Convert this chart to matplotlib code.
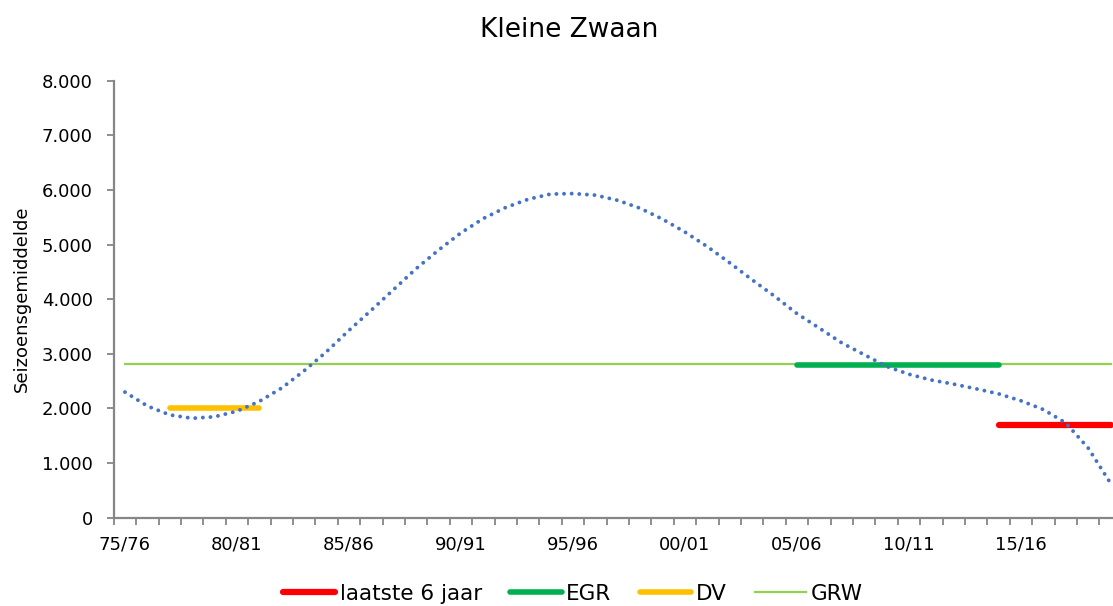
import matplotlib
matplotlib.use("Agg")
import matplotlib.pyplot as plt
from matplotlib.ticker import FuncFormatter, MultipleLocator, FixedLocator

seasons = ["75/76", "76/77", "77/78", "78/79", "79/80", "80/81", "81/82", "82/83", "83/84", "84/85",
           "85/86", "86/87", "87/88", "88/89", "89/90", "90/91", "91/92", "92/93", "93/94", "94/95",
           "95/96", "96/97", "97/98", "98/99", "99/00", "00/01", "01/02", "02/03", "03/04", "04/05",
           "05/06", "06/07", "07/08", "08/09", "09/10", "10/11", "11/12", "12/13", "13/14", "14/15",
           "15/16", "16/17", "17/18", "18/19", "19/20"]

trend = [2300, 2045, 1882, 1820, 1848, 1950, 2130, 2375, 2690, 3040,
         3430, 3800, 4180, 4560, 4900, 5215, 5478, 5680, 5830, 5925,
         5934, 5905, 5810, 5665, 5465, 5230, 4962, 4665, 4355, 4055,
         3736, 3470, 3200, 2985, 2770, 2626, 2520, 2445, 2360, 2268,
         2140, 1980, 1735, 1275, 630]

laatste_seasons = ["14/15", "15/16", "16/17", "17/18", "18/19", "19/20"]
laatste_value = 1700
egr_seasons = ["05/06", "06/07", "07/08", "08/09", "09/10", "10/11", "11/12", "12/13", "13/14", "14/15"]
egr_value = 2800
dv_seasons = ["77/78", "78/79", "79/80", "80/81", "81/82"]
dv_value = 2000
grw_value = 2820

label_seasons = ["75/76", "80/81", "85/86", "90/91", "95/96", "00/01", "05/06", "10/11", "15/16"]

idx = {s: i for i, s in enumerate(seasons)}

fig = plt.figure(figsize=(11.13, 6.06), dpi=100)
ax = fig.add_axes([0.1022, 0.1457, 0.9057, 0.7211])

axis_col = "#868686"

ax.plot(range(len(seasons)), [grw_value] * len(seasons), color="#92D050", lw=1.6, label="GRW", zorder=2)
ax.plot([idx[s] for s in egr_seasons], [egr_value] * len(egr_seasons), color="#00B050", lw=4.0,
        solid_capstyle="round", label="EGR", zorder=3)
ax.plot([idx[s] for s in dv_seasons], [dv_value] * len(dv_seasons), color="#FFC000", lw=4.0,
        solid_capstyle="round", label="DV", zorder=3)
ax.plot([idx[s] for s in laatste_seasons], [laatste_value] * len(laatste_seasons), color="#FF0000", lw=4.5,
        solid_capstyle="round", label="laatste 6 jaar", zorder=3)
ax.plot(range(len(seasons)), trend, color="#4472C4", lw=2.8, linestyle=(0, (0.01, 1.95)),
        dash_capstyle="round", zorder=4)

ax.set_xlim(-0.5, len(seasons) - 0.5)
ax.set_ylim(0, 8000)

ax.xaxis.set_major_locator(FixedLocator([idx[s] for s in label_seasons]))
ax.set_xticklabels(label_seasons)
ax.xaxis.set_minor_locator(FixedLocator([i - 0.5 for i in range(len(seasons) + 1)]))
ax.tick_params(axis="x", which="major", length=0, pad=12.5, labelsize=13)
ax.tick_params(axis="x", which="minor", length=5, width=1.3, color=axis_col, direction="out")

ax.yaxis.set_major_locator(MultipleLocator(1000))
ax.yaxis.set_major_formatter(FuncFormatter(lambda v, p: f"{int(v):,}".replace(",", ".")))
ax.tick_params(axis="y", which="major", length=5, width=1.3, color=axis_col, direction="out",
               labelsize=13, pad=10)

for side in ["top", "right"]:
    ax.spines[side].set_visible(False)
for side in ["left", "bottom"]:
    ax.spines[side].set_color(axis_col)
    ax.spines[side].set_linewidth(1.6)

ax.set_ylabel("Seizoensgemiddelde", fontsize=13, labelpad=8)

fig.text(0.511, 0.95, "Kleine Zwaan", ha="center", va="center", fontsize=19)

handles, labels = ax.get_legend_handles_labels()
order = ["laatste 6 jaar", "EGR", "DV", "GRW"]
hmap = dict(zip(labels, handles))
leg = fig.legend([hmap[o] for o in order], order, loc="center", bbox_to_anchor=(0.515, 0.02),
                 ncol=4, frameon=False, fontsize=15.5, handlelength=2.4, handletextpad=0.22,
                 columnspacing=1.3)

fig.savefig("out.png", dpi=100)
